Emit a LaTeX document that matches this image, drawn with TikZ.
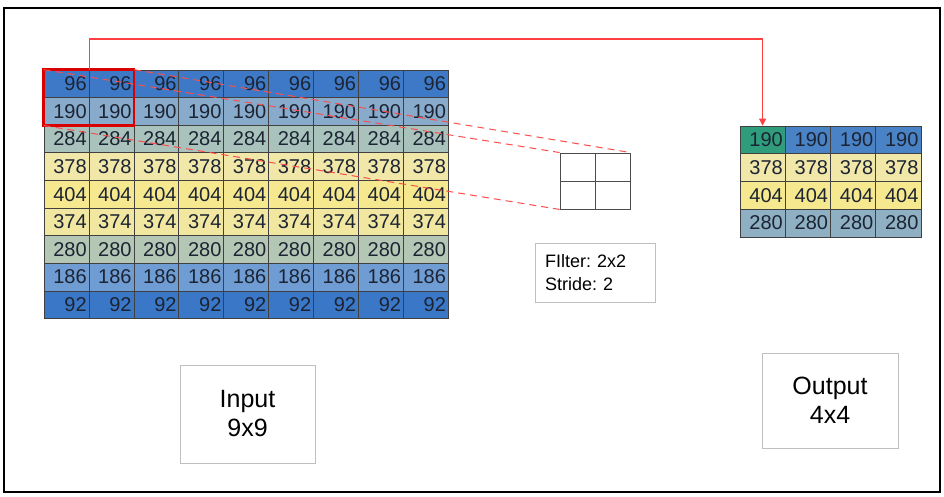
\documentclass[tikz,border=0pt]{standalone}
\usepackage{fontspec}
\setmainfont{Liberation Sans}
\usetikzlibrary{arrows.meta}
\frenchspacing

\definecolor{rowa}{HTML}{3D79C6}
\definecolor{rowb}{HTML}{88AACB}
\definecolor{rowc}{HTML}{A9C3BC}
\definecolor{rowd}{HTML}{F0E7A8}
\definecolor{rowe}{HTML}{F6E88E}
\definecolor{rowf}{HTML}{F1E7A1}
\definecolor{rowg}{HTML}{B4C6B4}
\definecolor{rowh}{HTML}{6F9CD2}
\definecolor{rowi}{HTML}{3A77C6}
\definecolor{outa}{HTML}{4A82C6}
\definecolor{outd}{HTML}{8FAFC3}
\definecolor{outg}{HTML}{2F9C7C}
\definecolor{numtext}{HTML}{1C2433}
\newcommand{\cellfont}{\fontsize{20}{20}\selectfont}

\begin{document}
\begin{tikzpicture}[x=1pt, y=-1pt,
    cell/.style={draw=black!75, line width=0.6pt, minimum width=44.9pt, minimum height=27.6pt,
      inner sep=0pt, text width=40.5pt, align=right, text=numtext, font=\cellfont},
    ocell/.style={cell, minimum width=45.2pt, minimum height=27.7pt},
    fcell/.style={draw=black!70, line width=0.9pt, minimum width=35pt, minimum height=28pt, inner sep=0pt},
    infobox/.style={draw=black!25, line width=0.9pt, inner sep=0pt, align=center},
    window/.style={draw=red!85!black, line width=2.6pt},
    link/.style={draw=red!75, line width=1.1pt},
    guide/.style={draw=red!70, line width=1pt, dash pattern=on 7pt off 5pt}]

\useasboundingbox (0,0) rectangle (944,497);
\draw[line width=1.5pt] (4,8) rectangle (940,492);

% input 9x9
\foreach \val/\col [count=\r] in {96/rowa, 190/rowb, 284/rowc, 378/rowd, 404/rowe, 374/rowf, 280/rowg, 186/rowh, 92/rowi}
  \foreach \c in {1,...,9}
    \node[cell, fill=\col] (in-\r-\c) at ({44+44.9*(\c-0.5)}, {70+27.6*(\r-0.5)}) {\val};

% output 4x4
\foreach \val/\col [count=\r] in {190/outa, 378/rowd, 404/rowe, 280/outd}
  \foreach \c in {1,...,4} {
    \ifnum\r\c=11 \def\fc{outg}\else\def\fc{\col}\fi
    \node[ocell, fill=\fc] (out-\r-\c) at ({740+45.2*(\c-0.5)}, {126+27.7*(\r-0.5)}) {\val};
  }

% filter 2x2
\foreach \r in {1,2}
  \foreach \c in {1,2}
    \node[fcell] (filt-\r-\c) at ({560+35*(\c-0.5)}, {153+28*(\r-0.5)}) {};

\draw[window] (in-1-1.north west) rectangle (in-2-2.south east);

\coordinate (rail) at (0,39);
\draw[link, -{Triangle[length=7pt, width=7pt]}] (in-1-1.north east) |- (rail -| out-1-1.north) -- (out-1-1.north);

\draw[guide] (in-1-1.north west) -- (filt-1-1.north west);
\draw[guide] (in-1-2.north east) -- (filt-1-2.north east);
\draw[guide] (in-2-1.south west) -- (filt-2-1.south west);

% labels
\node[infobox, minimum width=120pt, minimum height=59pt, text width=100pt, align=left,
  font=\fontsize{18}{23}\selectfont] (filtinfo) at (595,272.5) {FIlter: 2x2\\Stride: 2};
\node[infobox, minimum width=135pt, minimum height=98pt, font=\fontsize{25}{29}\selectfont] (inlabel) at (247.5,414) {Input\\9x9};
\node[infobox, minimum width=136pt, minimum height=95pt, font=\fontsize{25}{29}\selectfont] (outlabel) at (830,400.5) {Output\\4x4};

\end{tikzpicture}
\end{document}
